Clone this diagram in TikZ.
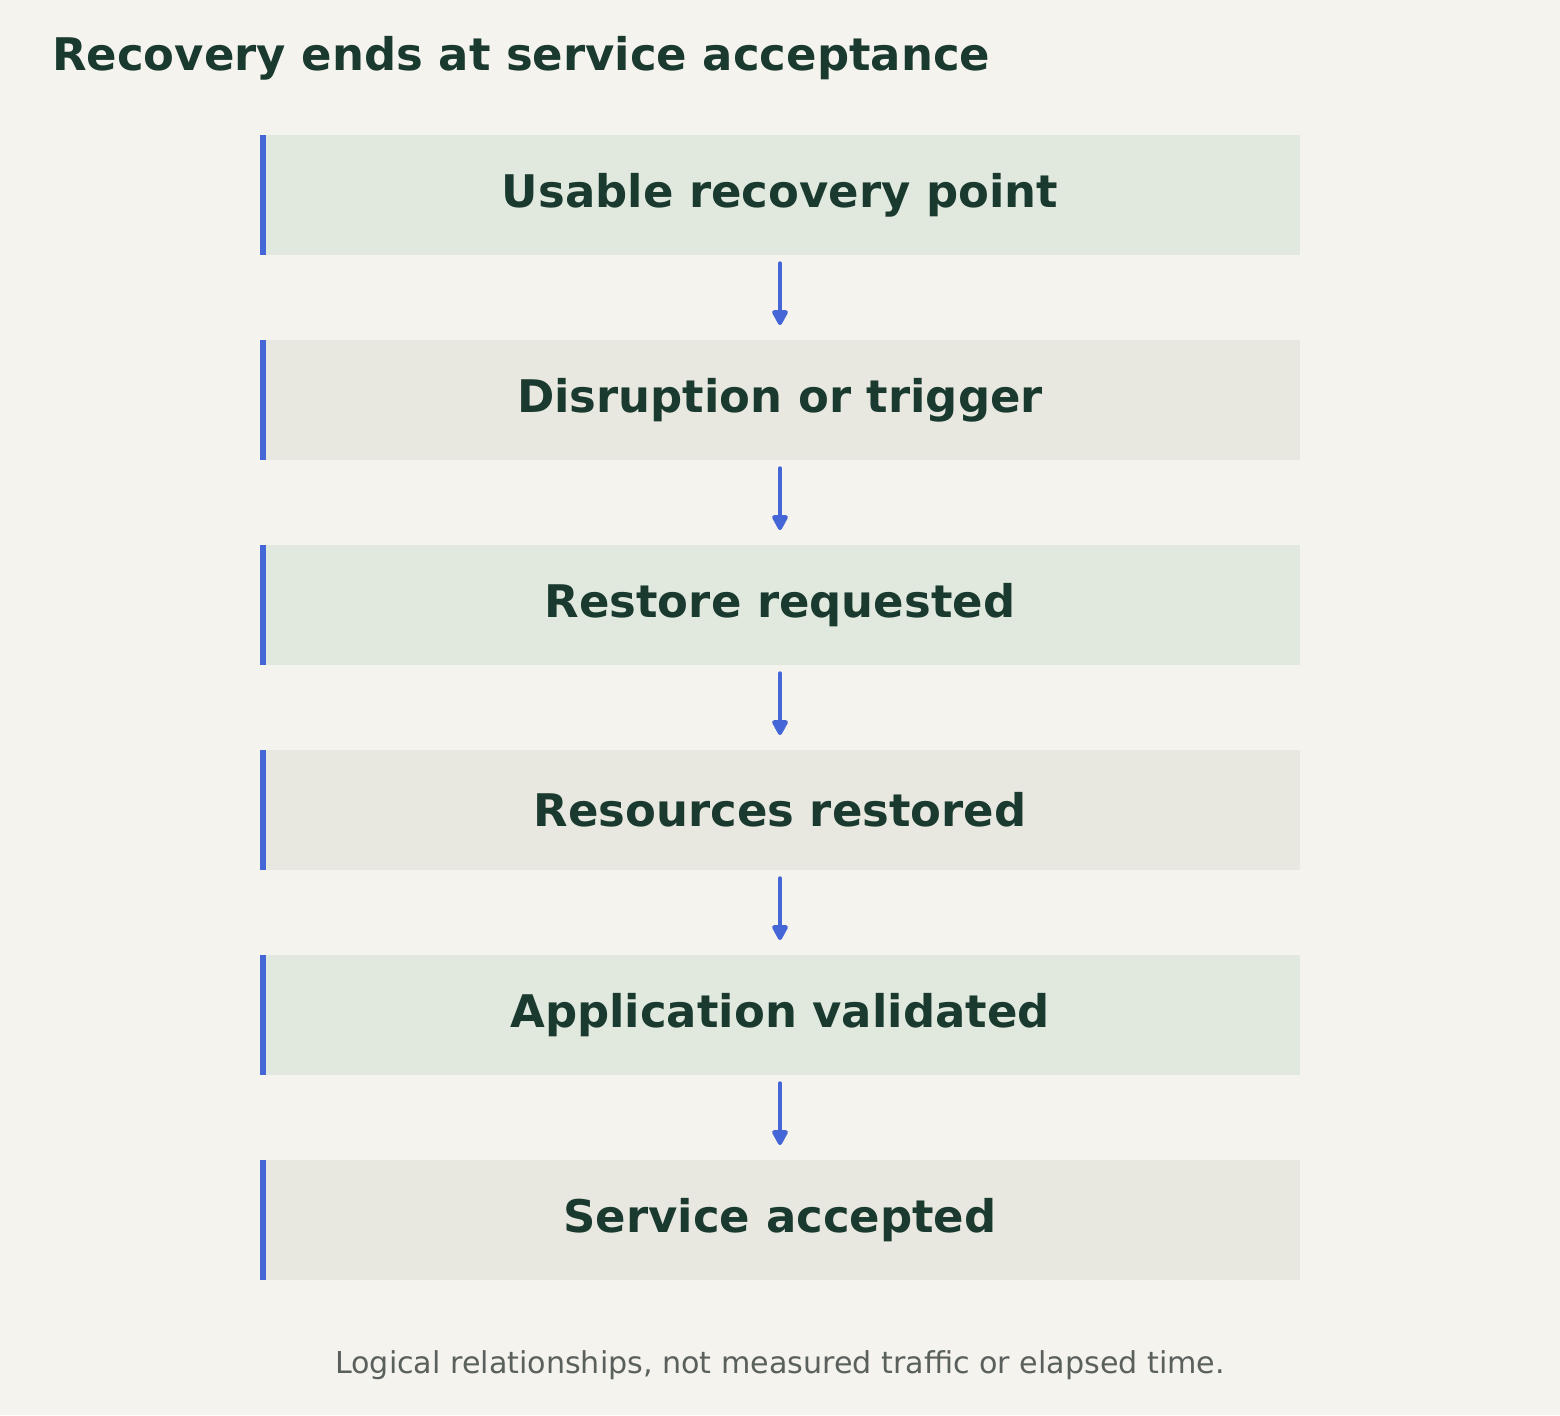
\documentclass[tikz,border=0pt]{standalone}
\usepackage{fontspec}
\setmainfont{DejaVu Sans}
\usetikzlibrary{arrows.meta,positioning}
\definecolor{bgcol}{HTML}{F5F3EE}
\definecolor{stepgreen}{HTML}{E1E9DF}
\definecolor{stepgrey}{HTML}{E8E8E0}
\definecolor{inkgreen}{HTML}{1A3A30}
\definecolor{barblue}{HTML}{4466D6}
\definecolor{notegrey}{HTML}{5A605C}
\tikzset{
  step/.style = {fill=#1, minimum width=780pt, minimum height=90pt, inner sep=0pt,
    text=inkgreen, font=\fontsize{33.7}{38}\selectfont\bfseries},
  flow/.style = {barblue, line width=3pt, line cap=round,
    -{Triangle[length=13pt,width=13pt,round]},
    shorten <=6pt, shorten >=11pt},
}
\begin{document}
\begin{tikzpicture}[x=0.75pt,y=-0.75pt]
\fill[bgcol] (0,0) rectangle (1560,1415);
\useasboundingbox (0,0) rectangle (1560,1415);

\node[anchor=west, inner sep=0pt, text=inkgreen, font=\fontsize{33.7}{38}\selectfont\bfseries] (title) at (52,58) {Recovery ends at service acceptance};

\foreach \i/\txt/\col in {1/Usable recovery point/stepgreen, 2/Disruption or trigger/stepgrey,
  3/Restore requested/stepgreen, 4/Resources restored/stepgrey,
  5/Application validated/stepgreen, 6/Service accepted/stepgrey}{
  \node[step=\col] (s\i) at (780,{195+205*(\i-1)}) {\txt};
  \fill[barblue] (s\i.north west) rectangle ++(6,120);
}

\foreach \i [evaluate=\i as \j using int(\i+1)] in {1,...,5}
  \draw[flow] (s\i.south) -- (s\j.north);

\node[text=notegrey, font=\fontsize{22.6}{27}\selectfont] (note) at (780,1365) {Logical relationships, not measured traffic or elapsed time.};
\end{tikzpicture}
\end{document}
